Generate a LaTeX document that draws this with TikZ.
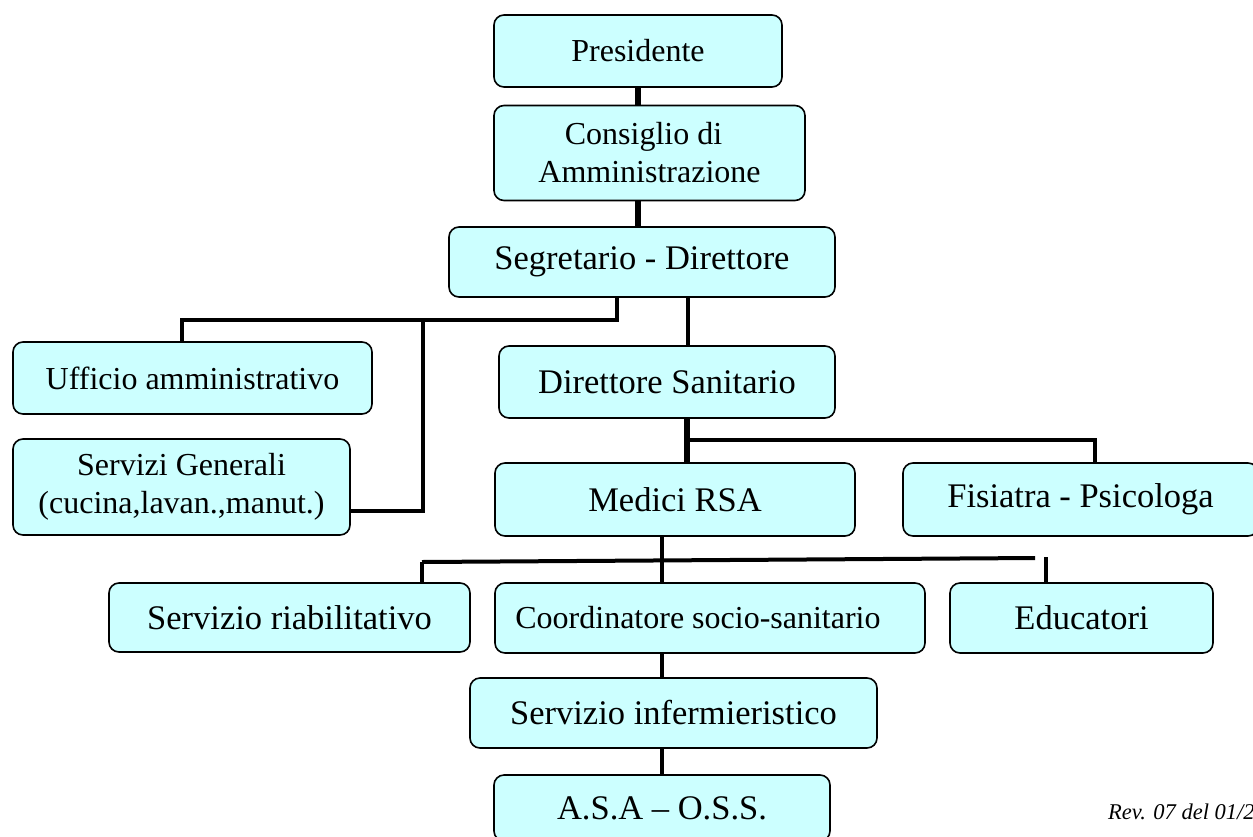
\documentclass[tikz,border=0pt]{standalone}
\usepackage{fontspec}
\setmainfont{Liberation Serif}
\definecolor{boxfill}{HTML}{CCFFFF}
\tikzset{
  orgbox/.style={draw=black, fill=boxfill, line width=1.6pt, rounded corners=10pt,
    rectangle, inner sep=0pt, align=center, text=black},
  smalltxt/.style={font=\fontsize{32}{38}\selectfont},
  bigtxt/.style={font=\fontsize{34.5}{38}\selectfont},
  link/.style={line width=4pt, draw=black},
  thicklink/.style={line width=6pt, draw=black}
}
\begin{document}
\begin{tikzpicture}[x=1pt,y=-1pt]
\useasboundingbox (0,0) rectangle (1253,836);
\clip (0,0) rectangle (1253,836);
% boxes
\node[orgbox, smalltxt, minimum width=288pt, minimum height=72pt] (pres) at (638,51) {Presidente};
\node[orgbox, smalltxt, minimum width=311pt, minimum height=95pt] (cons) at (649.5,153) {\hspace*{-12pt}Consiglio di\\Amministrazione};
\node[orgbox, bigtxt, minimum width=386pt, minimum height=70pt] (seg) at (642,262) {Segretario - Direttore};
\node[orgbox, smalltxt, minimum width=359pt, minimum height=72pt] (uff) at (192.5,378) {Ufficio amministrativo};
\node[orgbox, smalltxt, minimum width=337pt, minimum height=96pt] (serv) at (181.5,487) {Servizi Generali\\(cucina,lavan.,manut.)};
\node[orgbox, bigtxt, minimum width=336pt, minimum height=72pt] (dirs) at (667,382) {Direttore Sanitario};
\node[orgbox, bigtxt, minimum width=360pt, minimum height=73pt] (med) at (675,499.5) {Medici RSA};
\node[orgbox, bigtxt, minimum width=355pt, minimum height=73pt] (fis) at (1080.5,499.5) {Fisiatra - Psicologa};
\node[orgbox, bigtxt, minimum width=361pt, minimum height=69pt] (riab) at (289.5,617.5) {Servizio riabilitativo};
\node[orgbox, smalltxt, minimum width=430pt, minimum height=70pt] (coord) at (710,618) {\hspace*{-24pt}Coordinatore socio-sanitario};
\node[orgbox, bigtxt, minimum width=263pt, minimum height=70pt] (edu) at (1081.5,618) {Educatori};
\node[orgbox, bigtxt, minimum width=407pt, minimum height=70pt] (inf) at (673.5,713) {Servizio infermieristico};
\node[orgbox, bigtxt, minimum width=336pt, minimum height=66pt] (asa) at (662,808) {A.S.A -- O.S.S.};
% revision note
\node[anchor=base west, inner sep=0pt, font=\fontsize{22.5}{25}\selectfont\itshape] (rev) at (1108,819) {Rev. 07 del 01/2};
% junction coordinates
\coordinate (j1) at (617,320);
\coordinate (j2) at (182,320);
\coordinate (j3) at (423,320);
\coordinate (j4) at (423,511);
\coordinate (k1) at (688,320);
\coordinate (m1) at (687,440);
\coordinate (m2) at (1095,440);
\coordinate (n1) at (662,560);
\coordinate (n2) at (422,562);
\coordinate (n3) at (1035,558);
\coordinate (n4) at (1046,557);
% connectors
\draw[thicklink] (pres.south) -- (pres.south |- cons.north);
\draw[thicklink] (cons.south -| pres.south) -- (seg.north -| pres.south);
\draw[link, line join=miter] (seg.south -| j1) -- (j1) -- (j2) -- (uff.north -| j2);
\draw[link, line join=miter] (j3) -- (j4) -- (serv.east |- j4);
\draw[link] (seg.south -| k1) -- (dirs.north -| k1);
\draw[thicklink] (dirs.south -| m1) -- (med.north -| m1);
\draw[link, line join=miter] (m1) -- (m2) -- (fis.north -| m2);
\draw[link] (med.south -| n1) -- (coord.north -| n1);
\draw[link] (n2) -- (n3);
\draw[link] (n2) -- (riab.north -| n2);
\draw[link] (n4) -- (edu.north -| n4);
\draw[link] (coord.south -| n1) -- (inf.north -| n1);
\draw[link] (inf.south -| n1) -- (asa.north -| n1);
\end{tikzpicture}
\end{document}
